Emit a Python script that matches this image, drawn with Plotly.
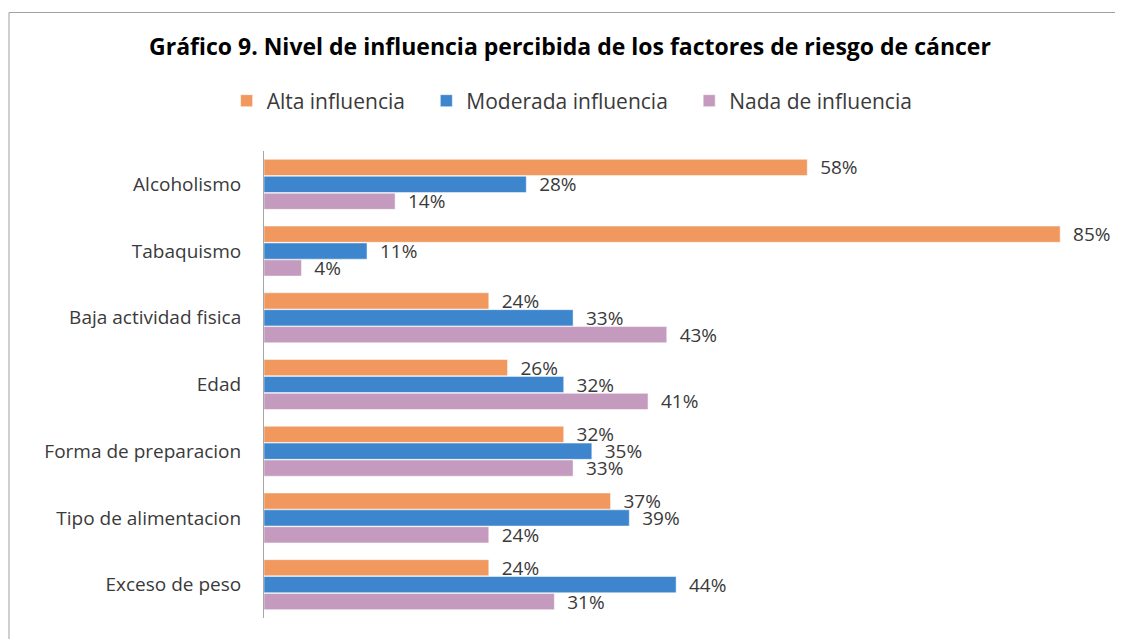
import plotly.graph_objects as go

# datos del gráfico
categorias = ["Alcoholismo", "Tabaquismo", "Baja actividad fisica", "Edad",
              "Forma de preparacion", "Tipo de alimentacion", "Exceso de peso"]
alta = [58, 85, 24, 26, 32, 37, 24]
moderada = [28, 11, 33, 32, 35, 39, 44]
nada = [14, 4, 43, 41, 33, 24, 31]

series = [("Alta influencia", alta, "#F0985E"),
          ("Moderada influencia", moderada, "#3D85CC"),
          ("Nada de influencia", nada, "#C49BBE")]

fuente = "Open Sans"

fig = go.Figure()
for nombre, valores, color in series:
    fig.add_trace(go.Bar(
        y=categorias, x=valores, name=nombre + "\u00a0\u00a0\u00a0", orientation="h",
        marker=dict(color=color, line=dict(color="white", width=0.5)),
        text=[f"  {v}%" for v in valores], textposition="outside",
        constraintext="none",
        textfont=dict(size=19, color="#3A3A3A", family=fuente),
        cliponaxis=False,
    ))

# la página tiene 8px de margen en el body, se compensa
fig.update_layout(
    width=1115, height=631,
    paper_bgcolor="white", plot_bgcolor="white",
    barmode="group", bargap=0.24, bargroupgap=0.04,
    margin=dict(l=256, r=16, t=143, b=21, autoexpand=False),
    font=dict(family=fuente, size=19, color="#3A3A3A"),
    title=dict(text="<b>Gráfico 9. Nivel de influencia percibida de los factores de riesgo de cáncer</b>",
               x=0.504, xanchor="center", y=0.938, yanchor="middle",
               font=dict(size=23, color="black", family=fuente)),
    legend=dict(orientation="h", x=0.375, xanchor="center",
                y=1.107, yanchor="middle",
                font=dict(size=21, color="#3A3A3A"), traceorder="normal",
                itemwidth=30),
    showlegend=True,
)
fig.update_xaxes(range=[0, 90], showticklabels=False, showgrid=False,
                 zeroline=False, showline=False)
fig.update_yaxes(autorange="reversed", showline=True, linecolor="#A6A6A6",
                 linewidth=1, ticks="", ticklabelstandoff=18,
                 tickfont=dict(size=19, color="#3A3A3A"))

# marco exterior
fig.add_shape(type="rect", xref="paper", yref="paper",
              x0=-0.3025, x1=1.03, y0=-0.1, y1=1.2966,
              line=dict(color="#A0A0A0", width=1))

fig.write_html("out.html")
